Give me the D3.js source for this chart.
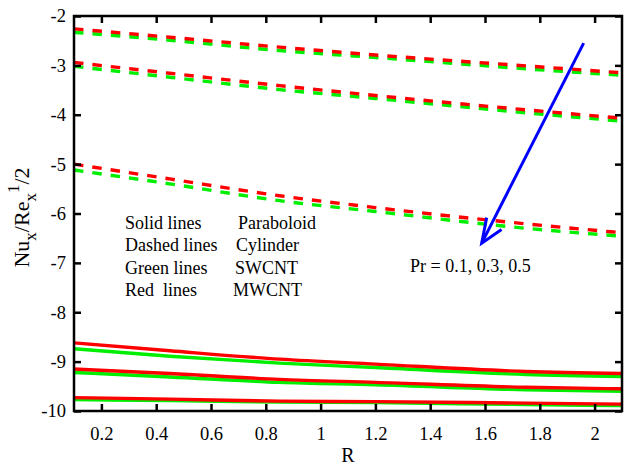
<!DOCTYPE html>
<html>
<head>
<meta charset="utf-8">
<script src="https://cdn.jsdelivr.net/npm/d3@7"></script>
<style>
  body { margin: 0; background: #fff; }
  svg text { font-family: "Liberation Serif", "Times New Roman", serif; fill: #000; }
</style>
</head>
<body>
<svg id="chart"></svg>
<script>
var width = 624, height = 465
var margin = {top: 16, right: 2, bottom: 54, left: 74}
var serif = "'Liberation Serif', 'Times New Roman', serif"

var R = [0.1, 0.45, 0.85, 1.2, 1.75, 2.1]

// Cylinder (dashed), Pr = 0.1, 0.3, 0.5
var cylSWCNT_1 = [-2.33, -2.49, -2.70, -2.84, -3.07, -3.20]
var cylMWCNT_1 = [-2.26, -2.43, -2.63, -2.79, -3.01, -3.15]
var cylSWCNT_2 = [-3.02, -3.24, -3.49, -3.67, -3.96, -4.13]
var cylMWCNT_2 = [-2.94, -3.16, -3.41, -3.61, -3.90, -4.07]
var cylSWCNT_3 = [-5.12, -5.40, -5.74, -5.96, -6.30, -6.46]
var cylMWCNT_3 = [-5.00, -5.30, -5.64, -5.88, -6.21, -6.39]

// Paraboloid (solid)
var parSWCNT_1 = [-8.74, -8.89, -9.03, -9.12, -9.26, -9.30]
var parMWCNT_1 = [-8.62, -8.78, -8.95, -9.05, -9.20, -9.24]
var parSWCNT_2 = [-9.22, -9.31, -9.42, -9.47, -9.57, -9.60]
var parMWCNT_2 = [-9.15, -9.24, -9.36, -9.42, -9.52, -9.55]
var parSWCNT_3 = [-9.77, -9.79, -9.82, -9.83, -9.87, -9.89]
var parMWCNT_3 = [-9.73, -9.76, -9.80, -9.81, -9.84, -9.86]

var xTicks = [0.2, 0.4, 0.6, 0.8, 1, 1.2, 1.4, 1.6, 1.8, 2]
var xTickLabels = ["0.2", "0.4", "0.6", "0.8", "1", "1.2", "1.4", "1.6", "1.8", "2"]
var yTicks = [-10, -9, -8, -7, -6, -5, -4, -3, -2]
var yTickLabels = ["-10", "-9", "-8", "-7", "-6", "-5", "-4", "-3", "-2"]

var legendLeft = ["Solid lines", "Dashed lines", "Green lines", "Red  lines"]
var legendRight = ["Paraboloid", "Cylinder", "SWCNT", "MWCNT"]

// arrow in data units: [R, value]
var arrowFrom = [1.96, -2.55], arrowTo = [1.588, -6.6]
var arrowLabel = "Pr = 0.1, 0.3, 0.5"

var series = [
    {v: cylSWCNT_1, c: "#00ee00", dash: true}, {v: cylMWCNT_1, c: "#ff0000", dash: true},
    {v: cylSWCNT_2, c: "#00ee00", dash: true}, {v: cylMWCNT_2, c: "#ff0000", dash: true},
    {v: cylSWCNT_3, c: "#00ee00", dash: true}, {v: cylMWCNT_3, c: "#ff0000", dash: true},
    {v: parSWCNT_1, c: "#00ee00", dash: false}, {v: parMWCNT_1, c: "#ff0000", dash: false},
    {v: parSWCNT_2, c: "#00ee00", dash: false}, {v: parMWCNT_2, c: "#ff0000", dash: false},
    {v: parSWCNT_3, c: "#00ee00", dash: false}, {v: parMWCNT_3, c: "#ff0000", dash: false}
]

var svg = d3.select("#chart")
    .attr("width", width)
    .attr("height", height)

var x = d3.scaleLinear().domain([0.1, 2.1]).range([margin.left, width - margin.right])
var y = d3.scaleLinear().domain([-10, -2]).range([height - margin.bottom, margin.top])

svg.append("clipPath").attr("id", "clip")
    .append("rect")
    .attr("x", margin.left).attr("y", margin.top)
    .attr("width", width - margin.left - margin.right)
    .attr("height", height - margin.top - margin.bottom)

var line = d3.line()
    .x(function(d, i) { return x(R[i]) })
    .y(function(d) { return y(d) })
    .curve(d3.curveMonotoneX)

svg.append("g")
    .attr("clip-path", "url(#clip)")
    .selectAll("path")
    .data(series)
    .enter()
    .append("path")
        .attr("d", function(d) { return line(d.v) })
        .attr("fill", "none")
        .attr("stroke", function(d) { return d.c })
        .attr("stroke-width", 3.4)
        .attr("stroke-dasharray", function(d) { return d.dash ? "9.5,9" : null })

// axes, ticks pointing inward on all four sides
var tickLen = 7
var axisB = d3.axisBottom(x).tickValues(xTicks).tickSizeInner(-tickLen).tickSizeOuter(0).tickPadding(16)
    .tickFormat(function(d, i) { return xTickLabels[i] })
var axisT = d3.axisTop(x).tickValues(xTicks).tickSizeInner(-tickLen).tickSizeOuter(0).tickFormat("")
var axisL = d3.axisLeft(y).tickValues(yTicks).tickSizeInner(-tickLen).tickSizeOuter(0).tickPadding(8)
    .tickFormat(function(d, i) { return yTickLabels[i] })
var axisR = d3.axisRight(y).tickValues(yTicks).tickSizeInner(-tickLen).tickSizeOuter(0).tickFormat("")

function styleAxis(g) {
    g.attr("font-family", serif)
    g.select(".domain").remove()
    g.selectAll("line").attr("stroke", "#000").attr("stroke-width", 2.5)
    g.selectAll("text").style("font-family", serif).style("font-size", "18.5px")
}

svg.append("g").attr("transform", "translate(0," + y(-10) + ")").call(axisB).call(styleAxis)
svg.append("g").attr("transform", "translate(0," + y(-2) + ")").call(axisT).call(styleAxis)
svg.append("g").attr("transform", "translate(" + x(0.1) + ",0)").call(axisL).call(styleAxis)
svg.append("g").attr("transform", "translate(" + x(2.1) + ",0)").call(axisR).call(styleAxis)

svg.append("rect")
    .attr("x", x(0.1)).attr("y", y(-2))
    .attr("width", x(2.1) - x(0.1)).attr("height", y(-10) - y(-2))
    .attr("fill", "none")
    .attr("stroke", "#000")
    .attr("stroke-width", 2.5)

// axis titles
svg.append("text")
    .attr("x", (x(0.1) + x(2.1)) / 2)
    .attr("y", 462)
    .attr("text-anchor", "middle")
    .style("font-family", serif)
    .style("font-size", "20px")
    .text("R")

var yl = svg.append("text")
    .attr("transform", "translate(29," + ((y(-2) + y(-10)) / 2 + 4) + ") rotate(-90)")
    .attr("text-anchor", "middle")
    .style("font-family", serif)
    .attr("font-size", 22)
yl.append("tspan").text("Nu")
yl.append("tspan").attr("font-size", 17).attr("dy", 7).text("x")
yl.append("tspan").attr("dy", -7).text("/Re")
yl.append("tspan").attr("font-size", 17).attr("dy", 7).text("x")
yl.append("tspan").attr("font-size", 17).attr("dy", -17).text("1")
yl.append("tspan").attr("dy", 10).text("/2")

// legend text
var leg = svg.append("g").attr("font-size", 18)
leg.selectAll("text.l")
    .data(legendLeft)
    .enter()
    .append("text")
        .attr("class", "l")
        .attr("x", 125)
        .attr("y", function(d, i) { return 229 + i * 22.4 })
        .style("white-space", "pre")
        .text(function(d) { return d })
var rightX = [238, 236, 235, 233]
leg.selectAll("text.r")
    .data(legendRight)
    .enter()
    .append("text")
        .attr("class", "r")
        .attr("x", function(d, i) { return rightX[i] })
        .attr("y", function(d, i) { return 229 + i * 22.4 })
        .text(function(d) { return d })

// arrow
var x0 = x(arrowFrom[0]), y0 = y(arrowFrom[1]), x1 = x(arrowTo[0]), y1 = y(arrowTo[1])
var ang = Math.atan2(y1 - y0, x1 - x0)
svg.append("line")
    .attr("x1", x0).attr("y1", y0).attr("x2", x1).attr("y2", y1)
    .attr("stroke", "#0000ff").attr("stroke-width", 3)
svg.append("path")
    .attr("d", "M" + (x1 - 26 * Math.cos(ang - 0.28)) + "," + (y1 - 26 * Math.sin(ang - 0.28)) +
        "L" + x1 + "," + y1 +
        "L" + (x1 - 24 * Math.cos(ang + 0.5)) + "," + (y1 - 24 * Math.sin(ang + 0.5)))
    .attr("fill", "none")
    .attr("stroke", "#0000ff")
    .attr("stroke-width", 3)

svg.append("text")
    .attr("x", 410)
    .attr("y", 272)
    .attr("font-size", 18)
    .text(arrowLabel)
</script>
</body>
</html>
